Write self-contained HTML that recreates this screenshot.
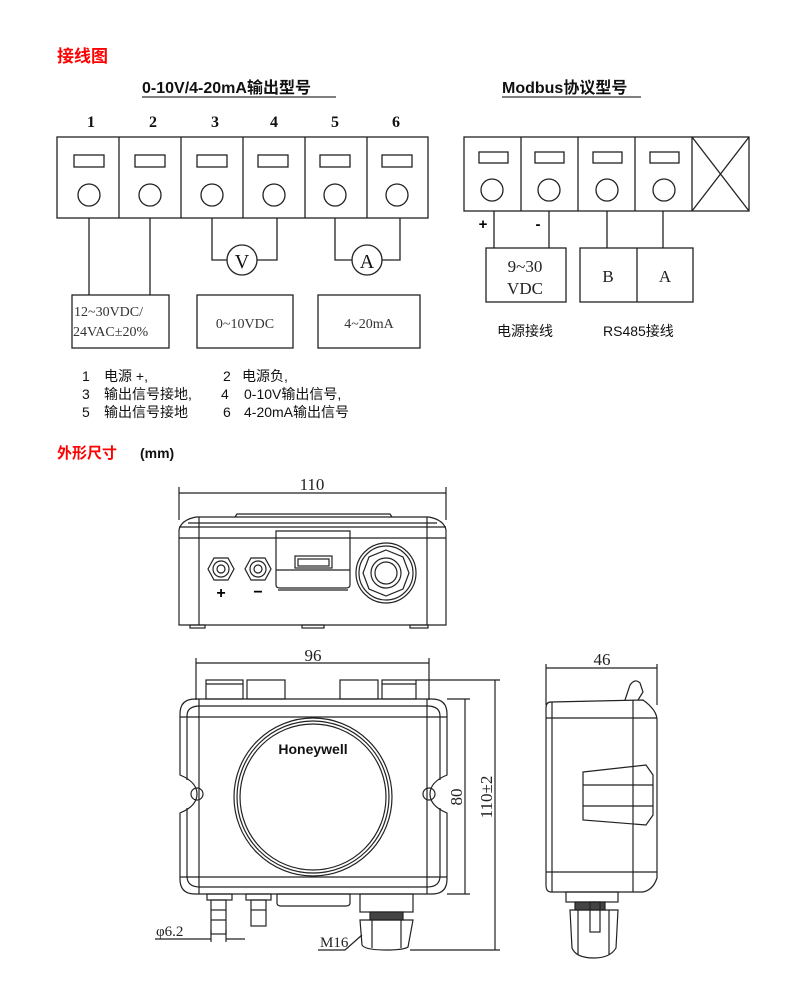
<!DOCTYPE html>
<html><head><meta charset="utf-8"><style>
html,body{margin:0;padding:0;background:#fff;width:800px;height:988px;overflow:hidden}
svg{display:block}
text{font-family:"Liberation Sans","Noto Sans CJK SC",sans-serif}
.s{font-family:"Liberation Serif","Noto Serif CJK SC",serif}
</style></head><body>
<svg width="800" height="988" viewBox="0 0 800 988" xmlns="http://www.w3.org/2000/svg">
<!-- titles -->
<text x="57" y="62" font-size="17" font-weight="bold" fill="#f00">接线图</text>
<text x="142" y="93" font-size="16" font-weight="bold" fill="#111">0-10V/4-20mA输出型号</text>
<line x1="142" y1="97" x2="336" y2="97" stroke="#555" stroke-width="1.5"/>
<text x="502" y="93" font-size="16" font-weight="bold" fill="#111">Modbus协议型号</text>
<line x1="502" y1="97" x2="641" y2="97" stroke="#555" stroke-width="1.5"/>

<!-- left terminal block -->
<g class="s" font-size="16" font-weight="bold" fill="#111" text-anchor="middle">
<text x="91" y="127" class="s">1</text><text x="153" y="127" class="s">2</text><text x="215" y="127" class="s">3</text>
<text x="274" y="127" class="s">4</text><text x="335" y="127" class="s">5</text><text x="396" y="127" class="s">6</text>
</g>
<g fill="none" stroke="#222" stroke-width="1.3">
<rect x="57" y="137" width="371" height="81"/>
<line x1="119" y1="137" x2="119" y2="218"/><line x1="181" y1="137" x2="181" y2="218"/>
<line x1="243" y1="137" x2="243" y2="218"/><line x1="305" y1="137" x2="305" y2="218"/>
<line x1="367" y1="137" x2="367" y2="218"/>
<rect x="74" y="155" width="30" height="12"/><rect x="135" y="155" width="30" height="12"/>
<rect x="197" y="155" width="30" height="12"/><rect x="258" y="155" width="30" height="12"/>
<rect x="320" y="155" width="30" height="12"/><rect x="382" y="155" width="30" height="12"/>
<circle cx="89" cy="195" r="11"/><circle cx="150" cy="195" r="11"/><circle cx="212" cy="195" r="11"/>
<circle cx="274" cy="195" r="11"/><circle cx="335" cy="195" r="11"/><circle cx="397" cy="195" r="11"/>
<line x1="89" y1="218" x2="89" y2="295"/><line x1="150" y1="218" x2="150" y2="295"/>
<polyline points="212,218 212,260 227,260"/><polyline points="257,260 277,260 277,218"/>
<circle cx="242" cy="260" r="15"/>
<polyline points="335,218 335,260 352,260"/><polyline points="382,260 400,260 400,218"/>
<circle cx="367" cy="260" r="15"/>
<rect x="72" y="295" width="97" height="53"/>
<rect x="197" y="295" width="96" height="53"/>
<rect x="318" y="295" width="102" height="53"/>
</g>
<text x="242" y="268" font-size="20" text-anchor="middle" class="s" fill="#111">V</text>
<text x="367" y="268" font-size="20" text-anchor="middle" class="s" fill="#111">A</text>
<g class="s" font-size="14" fill="#333">
<text x="74" y="316" class="s">12~30VDC/</text>
<text x="73" y="336" class="s">24VAC±20%</text>
<text x="245" y="328" text-anchor="middle" class="s">0~10VDC</text>
<text x="369" y="328" text-anchor="middle" class="s">4~20mA</text>
</g>
<g font-size="14" fill="#111">
<text x="82" y="381">1</text><text x="104" y="381">电源 +,</text>
<text x="223" y="381">2</text><text x="242" y="381">电源负,</text>
<text x="82" y="399">3</text><text x="104" y="399">输出信号接地,</text>
<text x="221" y="399">4</text><text x="244" y="399">0-10V输出信号,</text>
<text x="82" y="417">5</text><text x="104" y="417">输出信号接地</text>
<text x="223" y="417">6</text><text x="244" y="417">4-20mA输出信号</text>
</g>

<!-- modbus block -->
<g fill="none" stroke="#222" stroke-width="1.3">
<rect x="464" y="137" width="285" height="74"/>
<line x1="521" y1="137" x2="521" y2="211"/><line x1="578" y1="137" x2="578" y2="211"/>
<line x1="635" y1="137" x2="635" y2="211"/><line x1="692" y1="137" x2="692" y2="211"/>
<line x1="692" y1="137" x2="749" y2="211"/><line x1="749" y1="137" x2="692" y2="211"/>
<rect x="479" y="152" width="29" height="11"/><rect x="535" y="152" width="29" height="11"/>
<rect x="593" y="152" width="29" height="11"/><rect x="650" y="152" width="29" height="11"/>
<circle cx="492" cy="190" r="11"/><circle cx="549" cy="190" r="11"/>
<circle cx="607" cy="190" r="11"/><circle cx="664" cy="190" r="11"/>
<line x1="494" y1="211" x2="494" y2="248"/><line x1="549" y1="211" x2="549" y2="248"/>
<line x1="607" y1="211" x2="607" y2="248"/><line x1="663" y1="211" x2="663" y2="248"/>
<rect x="486" y="248" width="80" height="54"/>
<rect x="580" y="248" width="113" height="54"/><line x1="637" y1="248" x2="637" y2="302"/>
</g>
<text x="483" y="229" font-size="15" font-weight="bold" text-anchor="middle">+</text>
<text x="538" y="229" font-size="15" font-weight="bold" text-anchor="middle">-</text>
<g class="s" font-size="17" fill="#222" text-anchor="middle">
<text x="525" y="272" class="s">9~30</text><text x="525" y="294" class="s">VDC</text>
<text x="608" y="282" class="s">B</text><text x="665" y="282" class="s">A</text>
</g>
<text x="497" y="336" font-size="14" fill="#111">电源接线</text>
<text x="603" y="336" font-size="14" fill="#111">RS485接线</text>

<text x="57" y="458" font-size="15" font-weight="bold" fill="#f00">外形尺寸</text>
<text x="140" y="458" font-size="14" font-weight="bold" fill="#111">(mm)</text>

<!-- front view -->
<g fill="none" stroke="#222" stroke-width="1.2">
<line x1="179" y1="493" x2="446" y2="493"/>
<line x1="179" y1="487" x2="179" y2="520"/><line x1="446" y1="487" x2="446" y2="520"/>
<path d="M235,517 L237,514 L390,514 L392,517"/>
<path d="M179,625 L179,530 Q181,520 196,517 L429,517 Q444,520 446,530 L446,625 Z"/>
<line x1="199" y1="517" x2="199" y2="625"/><line x1="427" y1="517" x2="427" y2="625"/>
<line x1="179" y1="527" x2="446" y2="527"/><line x1="179" y1="538" x2="446" y2="538"/>
<line x1="188" y1="523" x2="437" y2="523"/>
<polygon points="208,569 214,558 228,558 234,569 228,580 214,580"/>
<circle cx="221" cy="569" r="8"/><circle cx="221" cy="569" r="4"/>
<polygon points="245,569 251,558 265,558 271,569 265,580 251,580"/>
<circle cx="258" cy="569" r="8"/><circle cx="258" cy="569" r="4"/>
<path d="M276,531 L350,531 L350,585 Q350,588 346,588 L280,588 Q276,588 276,585 Z"/>
<line x1="276" y1="570" x2="350" y2="570"/><line x1="278" y1="590" x2="348" y2="590"/>
<rect x="295" y="556" width="37" height="12"/><rect x="298" y="559" width="31" height="7"/>
<circle cx="386" cy="573" r="30"/><circle cx="386" cy="573" r="27"/>
<polygon points="386,550 403,557 409,573 403,589 386,596 369,589 363,573 369,557"/>
<circle cx="386" cy="573" r="15"/><circle cx="386" cy="573" r="11"/>
<rect x="190" y="625" width="15" height="3"/><rect x="302" y="625" width="22" height="3"/><rect x="410" y="625" width="18" height="3"/>
</g>
<text x="312" y="490" font-size="17" text-anchor="middle" class="s" fill="#222">110</text>
<text x="221" y="598" font-size="16" font-weight="bold" text-anchor="middle">+</text>
<text x="258" y="597" font-size="16" font-weight="bold" text-anchor="middle">−</text>

<!-- main view -->
<g fill="none" stroke="#222" stroke-width="1.2">
<line x1="196" y1="663" x2="429" y2="663"/>
<line x1="196" y1="658" x2="196" y2="700"/><line x1="429" y1="658" x2="429" y2="700"/>
<rect x="206" y="680" width="37" height="19"/><line x1="206" y1="684" x2="243" y2="684"/>
<rect x="247" y="680" width="38" height="19"/>
<rect x="340" y="680" width="38" height="19"/>
<rect x="382" y="680" width="34" height="19"/><line x1="382" y1="684" x2="416" y2="684"/>
<path d="M195,699 L432,699 Q447,699 447,714 L447,775 Q430,782 430,794 Q430,806 447,813 L447,879 Q447,894 432,894 L195,894 Q180,894 180,879 L180,813 Q197,806 197,794 Q197,782 180,775 L180,714 Q180,699 195,699 Z"/>
<path d="M200,706 L427,706 Q440,706 440,716 L440,780 M440,808 L440,876 Q440,887 427,887 L200,887 Q187,887 187,876 L187,808 M187,780 L187,716 Q187,706 200,706"/>
<line x1="199" y1="699" x2="199" y2="894"/><line x1="427" y1="699" x2="427" y2="894"/>
<line x1="180" y1="717" x2="447" y2="717"/><line x1="180" y1="877" x2="447" y2="877"/>
<circle cx="197" cy="794" r="6"/><circle cx="429" cy="794" r="6"/>
<circle cx="313" cy="797" r="79"/><circle cx="313" cy="797" r="76"/><circle cx="313" cy="797" r="73"/>
<rect x="207" y="894" width="25" height="6"/><rect x="211" y="900" width="15" height="34"/>
<line x1="211" y1="910" x2="226" y2="910"/><line x1="211" y1="920" x2="226" y2="920"/>
<rect x="246" y="894" width="25" height="6"/><rect x="251" y="900" width="15" height="26"/>
<line x1="251" y1="910" x2="266" y2="910"/>
<path d="M277,894 L350,894 L350,903 Q350,906 346,906 L281,906 Q277,906 277,903 Z"/>
<rect x="360" y="894" width="53" height="18"/>
<rect x="370" y="912" width="33" height="8" fill="#444"/>
<path d="M360,920 L413,920 L408,947 Q404,950 386,950 Q365,950 362,945 Z"/>
<line x1="372" y1="920" x2="372" y2="948"/><line x1="401" y1="920" x2="401" y2="948"/>
<line x1="465" y1="699" x2="465" y2="894"/>
<line x1="447" y1="699" x2="470" y2="699"/><line x1="447" y1="894" x2="470" y2="894"/>
<line x1="495" y1="680" x2="495" y2="950"/>
<line x1="416" y1="680" x2="500" y2="680"/><line x1="410" y1="950" x2="500" y2="950"/>
<line x1="155" y1="939" x2="211" y2="939"/><line x1="226" y1="939" x2="245" y2="939"/>
<line x1="211" y1="930" x2="211" y2="942"/><line x1="226" y1="930" x2="226" y2="942"/>
<polyline points="318,950 345,950 362,935"/>
</g>
<text x="313" y="754" font-size="14" font-weight="bold" text-anchor="middle" fill="#111">Honeywell</text>
<text x="313" y="661" font-size="17" text-anchor="middle" class="s" fill="#222">96</text>
<text transform="translate(462,797) rotate(-90)" font-size="17" text-anchor="middle" class="s" fill="#222">80</text>
<text transform="translate(492,797) rotate(-90)" font-size="17" text-anchor="middle" class="s" fill="#222">110±2</text>
<text x="156" y="936" font-size="15" class="s" fill="#222">φ6.2</text>
<text x="320" y="947" font-size="15" class="s" fill="#222">M16</text>

<!-- side view -->
<g fill="none" stroke="#222" stroke-width="1.2">
<line x1="546" y1="668" x2="657" y2="668"/>
<line x1="546" y1="664" x2="546" y2="705"/><line x1="657" y1="664" x2="657" y2="705"/>
<path d="M551,702 L643,700 Q657,710 657,720 L657,878 Q653,890 643,892 L551,892 Q546,892 546,885 L546,708 Q546,702 551,702 Z"/>
<line x1="546" y1="718" x2="657" y2="718"/><line x1="546" y1="872" x2="657" y2="872"/>
<line x1="633" y1="700" x2="633" y2="892"/><line x1="552" y1="702" x2="552" y2="892"/>
<path d="M625,700 L630,685 Q635,678 640,683 L643,692 L638,700"/>
<path d="M583,772 L646,765 L653,775 L653,815 L646,825 L583,820 Z"/>
<line x1="583" y1="785" x2="653" y2="785"/><line x1="583" y1="806" x2="653" y2="806"/>
<rect x="566" y="892" width="52" height="10"/>
<rect x="575" y="902" width="30" height="8" fill="#444"/>
<path d="M570,910 L618,910 L616,948 Q610,958 594,958 Q576,958 572,948 Z"/>
<line x1="578" y1="910" x2="578" y2="955"/><line x1="609" y1="910" x2="609" y2="955"/>
<rect x="590" y="902" width="10" height="30"/>
</g>
<text x="602" y="665" font-size="17" text-anchor="middle" class="s" fill="#222">46</text>
</svg>
</body></html>
